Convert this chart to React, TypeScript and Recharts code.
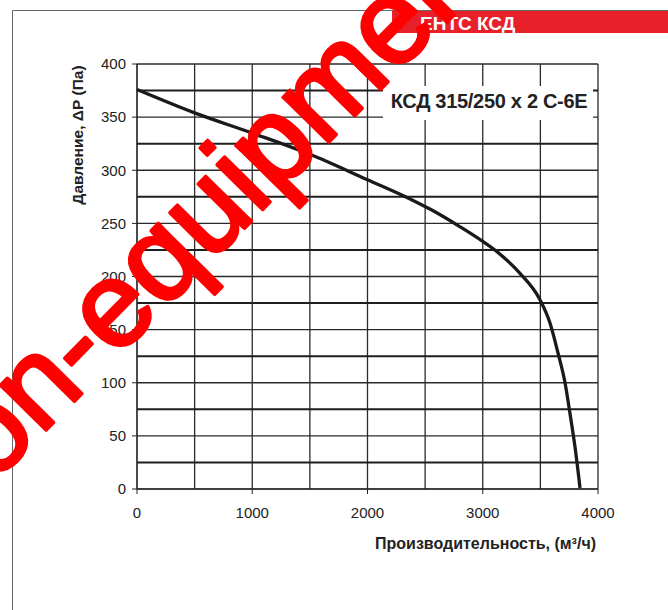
import { LineChart, Line, CartesianGrid, XAxis, YAxis } from "recharts"

// расход, м3/ч
const flow = [0, 500, 1000, 1500, 2000, 2369, 2550, 2800, 3000, 3150, 3323, 3497, 3584, 3653, 3714, 3757, 3800, 3844]
// давление, Па
const pressure = [376, 354, 335, 315, 291, 273, 263, 247, 233, 221, 203, 178, 156, 128, 100, 71, 40, 1]

const xTicks = [0, 1000, 2000, 3000, 4000]
const yTicks = [0, 50, 100, 150, 200, 250, 300, 350, 400]
const xGrid = [0, 500, 1000, 1500, 2000, 2500, 3000, 3500, 4000]
const yGridMain = [0, 50, 100, 150, 200, 250, 300, 350, 400]
const yGridHalf = [25, 75, 125, 175, 225, 275, 325, 375]

const modelName = "КСД 315/250 x 2 С-6Е"
const bannerText = "ЕНТС КСД"
const watermark = "on-equipment"

const font = "'Liberation Sans', Arial, sans-serif"

export default function App() {
  const data = flow.map((q, i) => ({ q, p: pressure[i] }))

  return (
    <div style={{ position: "absolute", left: 0, top: 0, width: 668, height: 610, background: "#fff", fontFamily: font }}>
      <LineChart width={668} height={610} data={data} margin={{ top: 64, right: 70, bottom: 81, left: 77 }}>
        <CartesianGrid stroke="#2a2a2a" strokeWidth={1.3} verticalValues={xGrid} horizontalValues={yGridMain} />
        <CartesianGrid stroke="#1e1e1e" strokeWidth={1.9} vertical={false} horizontalValues={yGridHalf} />
        <XAxis
          type="number"
          dataKey="q"
          domain={[0, 4000]}
          ticks={xTicks}
          height={40}
          tickSize={5}
          tickMargin={13}
          tick={{ fill: "#222", fontSize: 15, fontFamily: font }}
          axisLine={{ stroke: "#222" }}
          tickLine={{ stroke: "#222" }}
        />
        <YAxis
          type="number"
          domain={[0, 400]}
          ticks={yTicks}
          width={60}
          tickSize={5}
          tickMargin={6}
          tick={{ fill: "#222", fontSize: 15, fontFamily: font }}
          axisLine={{ stroke: "#222" }}
          tickLine={{ stroke: "#222" }}
        />
        <Line
          type="monotone"
          dataKey="p"
          stroke="#1a1a1a"
          strokeWidth={3.3}
          dot={false}
          activeDot={false}
          isAnimationActive={false}
        />
      </LineChart>

      <svg width={668} height={610} style={{ position: "absolute", left: 0, top: 0, pointerEvents: "none" }}>
        {/* рамка */}
        <line x1={12.5} y1={10.5} x2={668} y2={10.5} stroke="#666" strokeWidth={1} />
        <line x1={12.5} y1={10.5} x2={12.5} y2={610} stroke="#666" strokeWidth={1} />

        {/* красная плашка */}
        <rect x={392} y={11} width={276} height={22} fill="#e8202a" />
        <text x={420} y={30} fill="#fff" fontSize={19} fontWeight="bold" fontFamily={font}>
          {bannerText}
        </text>

        {/* подписи */}
        <rect x={383} y={86} width={210} height={34} fill="#fff" />
        <text
          x={489}
          y={108}
          textAnchor="middle"
          fill="#222"
          fontSize={20}
          fontWeight="bold"
          letterSpacing={-0.3}
          fontFamily={font}
        >
          {modelName}
        </text>
        <text
          x={0}
          y={0}
          transform="translate(82.5,135) rotate(-90)"
          textAnchor="middle"
          fill="#222"
          fontSize={15.5}
          fontWeight="bold"
          fontFamily={font}
        >
          Давление, ΔР (Па)
        </text>
        <text x={596} y={549} textAnchor="end" fill="#222" fontSize={16} fontWeight="bold" fontFamily={font}>
          Производительность, (м³/ч)
        </text>

        {/* водяной знак */}
        <text
          x={0}
          y={0}
          transform="translate(-7,484) rotate(-45.5)"
          fill="#ff0000"
          stroke="#ff0000"
          strokeWidth={3.5}
          strokeLinejoin="round"
          fontSize={121}
          fontFamily={font}
        >
          {watermark}
        </text>
      </svg>
    </div>
  )
}
